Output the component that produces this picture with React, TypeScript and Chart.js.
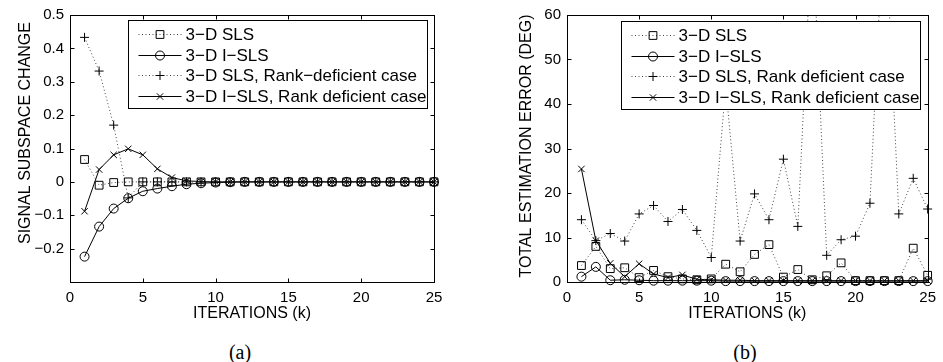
import React, { useEffect, useRef } from 'react';
import { Chart, registerables } from 'chart.js';

Chart.register(...registerables);

// ---------- data ----------
const iterations = [1, 2, 3, 4, 5, 6, 7, 8, 9, 10, 11, 12, 13, 14, 15, 16, 17, 18, 19, 20, 21, 22, 23, 24, 25];

const xTickValues = [0, 5, 10, 15, 20, 25];
const leftYTickValues = [-0.2, -0.1, 0, 0.1, 0.2, 0.3, 0.4, 0.5];
const rightYTickValues = [0, 10, 20, 30, 40, 50, 60];

// (a) signal subspace change
const leftSLS = [0.067, -0.010, -0.002, 0.000, 0.000, 0.000, 0.000, 0.000, 0.000, 0.000, 0.000, 0.000, 0.000, 0.000, 0.000, 0.000, 0.000, 0.000, 0.000, 0.000, 0.000, 0.000, 0.000, 0.000, 0.000];
const leftISLS = [-0.224, -0.134, -0.080, -0.049, -0.028, -0.020, -0.013, -0.007, -0.004, -0.002, -0.001, 0.000, 0.000, 0.000, 0.000, 0.000, 0.000, 0.000, 0.000, 0.000, 0.000, 0.000, 0.000, 0.000, 0.000];
const leftSLSRank = [0.433, 0.332, 0.170, -0.048, 0.000, 0.000, 0.000, 0.000, 0.000, 0.000, 0.000, 0.000, 0.000, 0.000, 0.000, 0.000, 0.000, 0.000, 0.000, 0.000, 0.000, 0.000, 0.000, 0.000, 0.000];
const leftISLSRank = [-0.088, 0.037, 0.081, 0.099, 0.081, 0.039, 0.013, 0.003, 0.001, 0.000, 0.000, 0.000, 0.000, 0.000, 0.000, 0.000, 0.000, 0.000, 0.000, 0.000, 0.000, 0.000, 0.000, 0.000, 0.000];

// (b) total estimation error (deg)
const rightSLS = [3.7, 8.0, 3.0, 3.2, 1.0, 2.6, 1.2, 0.7, 0.5, 0.7, 4.0, 2.3, 6.2, 8.4, 1.1, 2.8, 0.5, 1.4, 4.3, 0.3, 0.3, 0.3, 0.3, 7.6, 1.5];
const rightISLS = [1.2, 3.4, 0.4, 0.5, 0.4, 0.3, 0.3, 0.3, 0.3, 0.3, 0.2, 0.2, 0.2, 0.2, 0.2, 0.2, 0.2, 0.2, 0.2, 0.2, 0.2, 0.2, 0.2, 0.2, 0.2];
const rightSLSRank = [14.0, 9.3, 10.9, 9.2, 15.3, 17.2, 13.6, 16.3, 11.6, 5.5, 44.0, 9.2, 19.8, 14.0, 27.6, 12.5, 80.0, 6.0, 9.5, 10.3, 17.7, 85.0, 15.3, 23.3, 16.4];
const rightISLSRank = [25.4, 9.3, 4.2, 1.2, 4.1, 1.8, 1.0, 1.6, 0.6, 0.5, 0.4, 0.4, 0.3, 0.3, 0.3, 0.3, 0.3, 0.3, 0.3, 0.3, 0.3, 0.3, 0.3, 0.3, 0.3];

const leftLegendLabels = ['3\u2212D SLS', '3\u2212D I\u2212SLS', '3\u2212D SLS, Rank\u2212deficient case', '3\u2212D I\u2212SLS, Rank deficient case'];
const rightLegendLabels = ['3\u2212D SLS', '3\u2212D I\u2212SLS', '3\u2212D SLS, Rank deficient case', '3\u2212D I\u2212SLS, Rank deficient case'];

const xTitle = 'ITERATIONS (k)';
const leftYTitle = 'SIGNAL SUBSPACE CHANGE';
const rightYTitle = 'TOTAL ESTIMATION ERROR (DEG)';

// ---------- styles ----------
const FONT = '"Liberation Sans", Arial, Helvetica, sans-serif';
const DOT = [1, 2.5];
const seriesStyles = [
  { dash: DOT, color: '#444', point: 'rect', r: 5.5 },
  { dash: [] as number[], color: '#000', point: 'circle', r: 4.5 },
  { dash: DOT, color: '#444', point: 'cross', r: 4.5 },
  { dash: [] as number[], color: '#000', point: 'crossRot', r: 4.5 },
];

function drawMarker(ctx: CanvasRenderingContext2D, style: string, r: number, x: number, y: number) {
  ctx.beginPath();
  if (style === 'rect') {
    const s = r * Math.SQRT1_2;
    ctx.rect(x - s, y - s, 2 * s, 2 * s);
  } else if (style === 'circle') {
    ctx.arc(x, y, r, 0, Math.PI * 2);
  } else if (style === 'cross') {
    ctx.moveTo(x, y - r); ctx.lineTo(x, y + r);
    ctx.moveTo(x - r, y); ctx.lineTo(x + r, y);
  } else {
    const o = r * Math.SQRT1_2;
    ctx.moveTo(x - o, y - o); ctx.lineTo(x + o, y + o);
    ctx.moveTo(x + o, y - o); ctx.lineTo(x - o, y + o);
  }
  ctx.stroke();
}

type DecorCfg = {
  yTitle: string;
  yTitleX: number;
  yTitleY: number;
  xTitleY: number;
  legendLabels: string[];
  legendRightGap: number;
  legendTopGap: number;
  legendWidth: number;
  legendHeight: number;
};

function makeDecor(cfg: DecorCfg) {
  return {
    id: 'matlabDecor',
    afterDraw(chart: any) {
      const ctx: CanvasRenderingContext2D = chart.ctx;
      const a = chart.chartArea;
      const xs = chart.scales.x;
      const ys = chart.scales.y;
      ctx.save();
      ctx.setLineDash([]);
      ctx.strokeStyle = '#000';
      ctx.lineWidth = 1;
      const L = Math.round(a.left) + 0.5;
      const R = Math.round(a.right) + 0.5;
      const T = Math.round(a.top) + 0.5;
      const B = Math.round(a.bottom) + 0.5;
      ctx.strokeRect(L, T, R - L, B - T);
      const tl = 4;
      ctx.beginPath();
      xs.ticks.forEach((t: any) => {
        const px = Math.round(xs.getPixelForValue(t.value)) + 0.5;
        ctx.moveTo(px, B); ctx.lineTo(px, B - tl);
        ctx.moveTo(px, T); ctx.lineTo(px, T + tl);
      });
      ys.ticks.forEach((t: any) => {
        const py = Math.round(ys.getPixelForValue(t.value)) + 0.5;
        ctx.moveTo(L, py); ctx.lineTo(L + tl, py);
        ctx.moveTo(R, py); ctx.lineTo(R - tl, py);
      });
      ctx.stroke();

      // axis titles
      ctx.fillStyle = '#000';
      ctx.textAlign = 'center';
      ctx.textBaseline = 'middle';
      ctx.font = `16px ${FONT}`;
      ctx.fillText(xTitle, (a.left + a.right) / 2, cfg.xTitleY);
      ctx.save();
      ctx.translate(cfg.yTitleX, cfg.yTitleY);
      ctx.rotate(-Math.PI / 2);
      ctx.fillText(cfg.yTitle, 0, 0);
      ctx.restore();

      // legend
      const bx = Math.round(a.right - cfg.legendRightGap - cfg.legendWidth) + 0.5;
      const by = Math.round(a.top + cfg.legendTopGap) + 0.5;
      ctx.fillStyle = '#fff';
      ctx.fillRect(bx, by, cfg.legendWidth, cfg.legendHeight);
      ctx.strokeStyle = '#000';
      ctx.strokeRect(bx, by, cfg.legendWidth, cfg.legendHeight);
      ctx.font = `17px ${FONT}`;
      ctx.textAlign = 'left';
      cfg.legendLabels.forEach((label, i) => {
        const st = seriesStyles[i];
        const y = Math.round(by + 13.5 + i * 20.5) + 0.5;
        ctx.strokeStyle = st.color;
        ctx.setLineDash(st.dash);
        ctx.beginPath();
        ctx.moveTo(bx + 10, y);
        ctx.lineTo(bx + 53, y);
        ctx.stroke();
        ctx.setLineDash([]);
        ctx.strokeStyle = '#000';
        drawMarker(ctx, st.point, st.r, bx + 31.5, y);
        ctx.fillStyle = '#000';
        ctx.fillText(label, bx + 57, y + 0.5);
      });
      ctx.restore();
    },
  };
}

function buildDatasets(series: number[][], labels: string[], clip: any) {
  return series.map((vals, i) => {
    const st = seriesStyles[i];
    return {
      label: labels[i],
      data: iterations.map((k, j) => ({ x: k, y: vals[j] })),
      borderColor: st.color,
      borderWidth: 1,
      borderDash: st.dash,
      tension: 0,
      fill: false,
      pointStyle: st.point,
      pointRadius: st.r,
      pointHoverRadius: st.r,
      pointBorderColor: '#000',
      pointBackgroundColor: 'rgba(0,0,0,0)',
      pointBorderWidth: 1,
      clip,
    };
  });
}

function fmtTick(v: number) {
  const r = Math.round(v * 10) / 10;
  if (r === 0) return '0';
  return String(r).replace('-', '\u2212');
}

function makeConfig(opts: {
  series: number[][];
  labels: string[];
  yMin: number;
  yMax: number;
  yTicks: number[];
  yAxisWidth: number;
  padRight: number;
  xAxisHeight: number;
  clip: any;
  decor: DecorCfg;
}): any {
  return {
    type: 'line',
    data: { datasets: buildDatasets(opts.series, opts.labels, opts.clip) },
    options: {
      animation: false,
      responsive: false,
      devicePixelRatio: 1,
      events: [],
      layout: { padding: { top: 13, right: opts.padRight, left: 0, bottom: 0 } },
      plugins: { legend: { display: false }, tooltip: { enabled: false }, title: { display: false } },
      scales: {
        x: {
          type: 'linear',
          min: 0,
          max: 25,
          grid: { display: false, drawTicks: false },
          border: { display: false },
          afterBuildTicks: (s: any) => { s.ticks = xTickValues.map((v) => ({ value: v })); },
          afterFit: (s: any) => { s.height = opts.xAxisHeight; },
          ticks: {
            color: '#000',
            padding: 7,
            maxRotation: 0,
            font: { family: FONT, size: 15 },
            callback: (v: number) => fmtTick(v),
          },
        },
        y: {
          type: 'linear',
          min: opts.yMin,
          max: opts.yMax,
          grid: { display: false, drawTicks: false },
          border: { display: false },
          afterBuildTicks: (s: any) => { s.ticks = opts.yTicks.map((v) => ({ value: v })); },
          afterFit: (s: any) => { s.width = opts.yAxisWidth; },
          ticks: {
            color: '#000',
            padding: 6,
            font: { family: FONT, size: 15 },
            callback: (v: number) => fmtTick(v),
          },
        },
      },
    },
    plugins: [makeDecor(opts.decor)],
  };
}

export default function App() {
  const leftRef = useRef<HTMLCanvasElement>(null);
  const rightRef = useRef<HTMLCanvasElement>(null);

  useEffect(() => {
    const c1 = new Chart(leftRef.current as HTMLCanvasElement, makeConfig({
      series: [leftSLS, leftISLS, leftSLSRank, leftISLSRank],
      labels: leftLegendLabels,
      yMin: -0.3,
      yMax: 0.5,
      yTicks: leftYTickValues,
      yAxisWidth: 70,
      padRight: 46,
      xAxisHeight: 48,
      clip: 8,
      decor: {
        yTitle: leftYTitle,
        yTitleX: 26,
        yTitleY: 133,
        xTitleY: 314,
        legendLabels: leftLegendLabels,
        legendRightGap: 7,
        legendTopGap: 5,
        legendWidth: 299,
        legendHeight: 88,
      },
    }));
    const c2 = new Chart(rightRef.current as HTMLCanvasElement, makeConfig({
      series: [rightSLS, rightISLS, rightSLSRank, rightISLSRank],
      labels: rightLegendLabels,
      yMin: 0,
      yMax: 60,
      yTicks: rightYTickValues,
      yAxisWidth: 87,
      padRight: 10,
      xAxisHeight: 48,
      clip: { left: 8, right: 8, bottom: 8, top: 0 },
      decor: {
        yTitle: rightYTitle,
        yTitleX: 47,
        yTitleY: 146,
        xTitleY: 314,
        legendLabels: rightLegendLabels,
        legendRightGap: 8,
        legendTopGap: 6,
        legendWidth: 299,
        legendHeight: 88,
      },
    }));
    return () => { c1.destroy(); c2.destroy(); };
  }, []);

  const caption: React.CSSProperties = {
    position: 'absolute',
    top: 338,
    width: 60,
    textAlign: 'center',
    fontFamily: '"Liberation Serif", "DejaVu Serif", serif',
    fontSize: 20,
    lineHeight: '28px',
    color: '#000',
  };

  return (
    <div style={{ position: 'fixed', left: 0, top: 0, width: 943, height: 362, background: '#fff', overflow: 'hidden' }}>
      <canvas ref={leftRef} width={480} height={330} style={{ position: 'absolute', left: 0, top: 0, width: 480, height: 330 }} />
      <canvas ref={rightRef} width={463} height={330} style={{ position: 'absolute', left: 480, top: 0, width: 463, height: 330 }} />
      <div style={{ ...caption, left: 240 - 30 }}>(a)</div>
      <div style={{ ...caption, left: 745 - 30 }}>(b)</div>
    </div>
  );
}
